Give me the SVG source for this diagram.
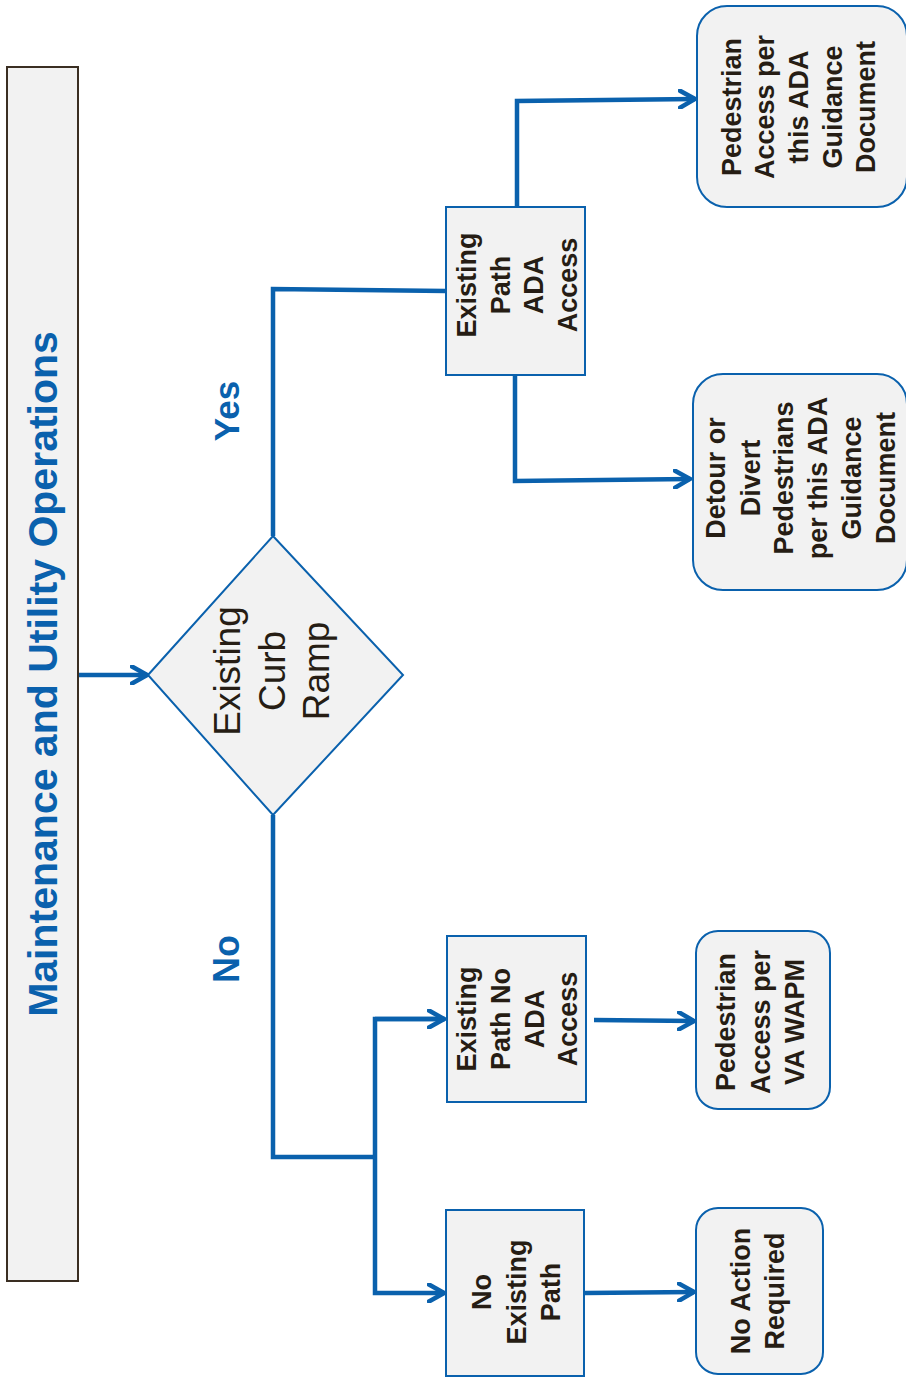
<svg xmlns="http://www.w3.org/2000/svg" width="906" height="1380" viewBox="0 0 906 1380">
<defs>
<style>
.box{fill:#f2f2f2;stroke:#0a61ad;stroke-width:2}
.title{fill:#f2f2f2;stroke:#3a2e22;stroke-width:2}
.t{font-family:"Liberation Sans",Arial,sans-serif;font-weight:bold;font-size:27px;fill:#261d14;text-anchor:middle}
.tr{font-family:"Liberation Sans",Arial,sans-serif;font-size:37px;fill:#261d14;text-anchor:middle}
.lbl{font-family:"Liberation Sans",Arial,sans-serif;font-weight:bold;fill:#0a61ad;text-anchor:middle}
.c{fill:none;stroke:#0a61ad;stroke-width:4.5;stroke-linejoin:miter}
</style>
<marker id="arr" viewBox="0 0 20 20" refX="17" refY="10" markerWidth="20" markerHeight="20" markerUnits="userSpaceOnUse" orient="auto">
<path d="M2,1.5 L17,10 L2,18.5" fill="none" stroke="#0a61ad" stroke-width="4.5" stroke-linecap="round"/>
</marker>
</defs>
<rect width="906" height="1380" fill="#ffffff"/>

<g id="title">
<rect class="title" x="7" y="67" width="71" height="1214"/>
<text class="lbl" font-size="41" transform="translate(0,674) rotate(-90)" x="0" y="57">Maintenance and Utility Operations</text>
</g>

<g id="connectors">
<line class="c" x1="79" y1="675" x2="147" y2="675" marker-end="url(#arr)"/>
<polyline class="c" points="273,536 273,289 446,291"/>
<polyline class="c" points="517,207 517,101 695,99" marker-end="url(#arr)"/>
<polyline class="c" points="515,375 515,481 690,479" marker-end="url(#arr)"/>
<polyline class="c" points="273,815 273,1157 375,1157"/>
<polyline class="c" points="445,1019 375,1019 375,1293 444,1293" marker-end="url(#arr)"/>
<line class="c" x1="375" y1="1019" x2="444" y2="1019" marker-end="url(#arr)"/>
<line class="c" x1="594" y1="1020" x2="694" y2="1021" marker-end="url(#arr)"/>
<line class="c" x1="585" y1="1293" x2="694" y2="1292" marker-end="url(#arr)"/>
</g>

<g id="label-yes">
<text class="lbl" font-size="35" transform="translate(0,411) rotate(-90)" x="0" y="239">Yes</text>
</g>
<g id="label-no">
<text class="lbl" font-size="36" transform="translate(0,959) rotate(-90)" x="0" y="239">No</text>
</g>

<g id="existing-curb-ramp">
<polygon class="box" points="148,675 273,536 403,675 273,815"/>
<g transform="translate(0,671) rotate(-90)">
<text class="tr" x="0" y="240">Existing</text>
<text class="tr" x="0" y="285">Curb</text>
<text class="tr" x="0" y="329">Ramp</text>
</g>
</g>

<g id="existing-path-ada-access">
<rect class="box" x="446" y="207" width="139" height="168"/>
<g transform="translate(0,285) rotate(-90)">
<text class="t" x="0" y="476">Existing</text>
<text class="t" x="0" y="510">Path</text>
<text class="t" x="0" y="543">ADA</text>
<text class="t" x="0" y="577">Access</text>
</g>
</g>

<g id="pedestrian-access-ada">
<rect class="box" x="697" y="6" width="210" height="201" rx="30"/>
<g transform="translate(0,107) rotate(-90)">
<text class="t" x="0" y="741">Pedestrian</text>
<text class="t" x="0" y="774">Access per</text>
<text class="t" x="0" y="808">this ADA</text>
<text class="t" x="0" y="842">Guidance</text>
<text class="t" x="0" y="875">Document</text>
</g>
</g>

<g id="detour-divert">
<rect class="box" x="693" y="374" width="214" height="216" rx="30"/>
<g transform="translate(0,478) rotate(-90)">
<text class="t" x="0" y="725">Detour or</text>
<text class="t" x="0" y="760">Divert</text>
<text class="t" x="0" y="793">Pedestrians</text>
<text class="t" x="0" y="827">per this ADA</text>
<text class="t" x="0" y="861">Guidance</text>
<text class="t" x="0" y="895">Document</text>
</g>
</g>

<g id="existing-path-no-ada-access">
<rect class="box" x="447" y="936" width="139" height="166"/>
<g transform="translate(0,1019) rotate(-90)">
<text class="t" x="0" y="476">Existing</text>
<text class="t" x="0" y="510">Path No</text>
<text class="t" x="0" y="544">ADA</text>
<text class="t" x="0" y="577">Access</text>
</g>
</g>

<g id="pedestrian-access-wapm">
<rect class="box" x="696" y="931" width="134" height="178" rx="22"/>
<g transform="translate(0,1022) rotate(-90)">
<text class="t" x="0" y="735">Pedestrian</text>
<text class="t" x="0" y="770">Access per</text>
<text class="t" x="0" y="804">VA WAPM</text>
</g>
</g>

<g id="no-existing-path">
<rect class="box" x="446" y="1210" width="138" height="166"/>
<g transform="translate(0,1292) rotate(-90)">
<text class="t" x="0" y="491">No</text>
<text class="t" x="0" y="526">Existing</text>
<text class="t" x="0" y="560">Path</text>
</g>
</g>

<g id="no-action-required">
<rect class="box" x="696" y="1208" width="127" height="166" rx="22"/>
<g transform="translate(0,1291) rotate(-90)">
<text class="t" x="0" y="750">No Action</text>
<text class="t" x="0" y="784">Required</text>
</g>
</g>
</svg>
